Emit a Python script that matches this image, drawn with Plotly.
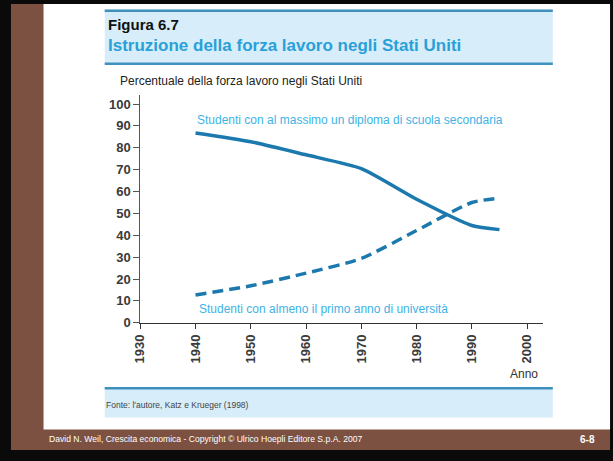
import plotly.graph_objects as go

# ---------------- data ----------------
years = [1940, 1950, 1960, 1970, 1980, 1990, 1995]
max_diploma = [86.8, 82.8, 76.8, 70.5, 56.5, 44.5, 42.6]
almeno_universita = [12.7, 16.9, 22.7, 29.4, 42.2, 55.0, 57.0]
x_ticks = [1930, 1940, 1950, 1960, 1970, 1980, 1990, 2000]
y_ticks = [0, 10, 20, 30, 40, 50, 60, 70, 80, 90, 100]
grid_vals = [20, 40, 60, 80, 100]

label_top = "Studenti con al massimo un diploma di scuola secondaria"
label_bottom = "Studenti con almeno il primo anno di università"

W, H = 613, 461
FONT = "Liberation Sans"
LINE_COL = "#1c79ae"
LABEL_COL = "#3db3e6"
HEAD_FILL = "#d7edfa"
HEAD_LINE = "#3f8fbf"
BROWN = "#7c5141"


def px(x):
    return x / W


def py(y):
    return 1 - y / H


fig = go.Figure()
fig.add_trace(go.Scatter(x=years, y=max_diploma, mode="lines",
                         line=dict(color=LINE_COL, width=3.5, shape="spline", smoothing=0.6),
                         showlegend=False, hoverinfo="skip"))
fig.add_trace(go.Scatter(x=years, y=almeno_universita, mode="lines",
                         line=dict(color=LINE_COL, width=3.5, shape="spline", smoothing=0.6,
                                   dash="11px,6px"),
                         showlegend=False, hoverinfo="skip"))

xr = [1930, 2002.86]
yr = [0, 104.0]
xdom = [px(134), px(542)]
ydom = [py(328.5), py(97)]

shapes = [
    dict(type="rect", xref="paper", yref="paper", x0=px(3), x1=px(610), y0=py(458), y1=py(4),
         fillcolor=BROWN, line=dict(width=0), layer="below"),
    dict(type="rect", xref="paper", yref="paper", x0=px(36), x1=px(610), y0=py(437), y1=py(4),
         fillcolor="white", line=dict(width=0), layer="below"),
    dict(type="rect", xref="paper", yref="paper", x0=px(98), x1=px(552), y0=py(66), y1=py(10),
         fillcolor=HEAD_FILL, line=dict(width=0), layer="below"),
    dict(type="line", xref="paper", yref="paper", x0=px(98), x1=px(552), y0=py(11), y1=py(11),
         line=dict(color=HEAD_LINE, width=2.5)),
    dict(type="line", xref="paper", yref="paper", x0=px(98), x1=px(552), y0=py(65), y1=py(65),
         line=dict(color=HEAD_LINE, width=2.5)),
    dict(type="rect", xref="paper", yref="paper", x0=px(98), x1=px(552), y0=py(425), y1=py(394),
         fillcolor=HEAD_FILL, line=dict(width=0), layer="below"),
    dict(type="line", xref="paper", yref="paper", x0=px(98), x1=px(552), y0=py(395), y1=py(395),
         line=dict(color=HEAD_LINE, width=2.5)),
]

annotations = [
    dict(text="<b>Figura 6.7</b>", xref="paper", yref="paper", x=px(99), y=py(25),
         xanchor="left", yanchor="middle", showarrow=False,
         font=dict(family=FONT, size=15, color="#111111")),
    dict(text="<b>Istruzione della forza lavoro negli Stati Uniti</b>", xref="paper", yref="paper",
         x=px(99), y=py(46), xanchor="left", yanchor="middle", showarrow=False,
         font=dict(family=FONT, size=17, color="#2aa0d8")),
    dict(text="Percentuale della forza lavoro negli Stati Uniti", xref="paper", yref="paper",
         x=px(111), y=py(82), xanchor="left", yanchor="middle", showarrow=False,
         font=dict(family=FONT, size=12, color="#222222")),
    dict(text="Anno", xref="paper", yref="paper", x=px(539), y=py(381),
         xanchor="right", yanchor="middle", showarrow=False,
         font=dict(family=FONT, size=12, color="#333333")),
    dict(text="Fonte: l'autore, Katz e Krueger (1998)", xref="paper", yref="paper",
         x=px(97), y=py(412), xanchor="left", yanchor="middle", showarrow=False,
         font=dict(family=FONT, size=8.5, color="#444444")),
    dict(text="David N. Weil, Crescita economica - Copyright © Ulrico Hoepli Editore S.p.A. 2007",
         xref="paper", yref="paper", x=px(40), y=py(447), xanchor="left", yanchor="middle",
         showarrow=False, font=dict(family=FONT, size=8.6, color="white")),
    dict(text="<b>6-8</b>", xref="paper", yref="paper", x=px(597), y=py(447),
         xanchor="right", yanchor="middle", showarrow=False,
         font=dict(family=FONT, size=10, color="white")),
    dict(text=label_top, xref="x", yref="y", x=1968.0, y=92.7, showarrow=False,
         xanchor="center", yanchor="middle",
         font=dict(family=FONT, size=12, color=LABEL_COL)),
    dict(text=label_bottom, xref="x", yref="y", x=1963.2, y=6.2, showarrow=False,
         xanchor="center", yanchor="middle",
         font=dict(family=FONT, size=12, color=LABEL_COL)),
]

fig.update_layout(
    width=W, height=H,
    margin=dict(l=0, r=0, t=0, b=0),
    paper_bgcolor="#0a0a0a",
    plot_bgcolor="rgba(0,0,0,0)",
    shapes=shapes,
    annotations=annotations,
    xaxis=dict(domain=xdom, range=xr, tickmode="array", tickvals=x_ticks,
               ticktext=["<b>%d</b>" % v for v in x_ticks], tickangle=-90,
               ticks="outside", ticklen=5, tickcolor="#333333", tickwidth=1,
               showline=True, linecolor="#333333", linewidth=1.6,
               showgrid=False, zeroline=False,
               tickfont=dict(family=FONT, size=13, color="#3a3a3a")),
    xaxis2=dict(domain=xdom, range=xr, overlaying="x", anchor="y",
                tickmode="array", tickvals=x_ticks[1:], ticks="inside", ticklen=5,
                tickcolor="#333333", tickwidth=1, showticklabels=False,
                showgrid=False, zeroline=False, showline=False),
    yaxis=dict(domain=ydom, range=yr, tickmode="array", tickvals=y_ticks,
               ticktext=["<b>%d</b>" % v for v in y_ticks],
               ticks="outside", ticklen=6, tickcolor="#555555", tickwidth=1,
               showline=True, linecolor="#555555", linewidth=1,
               showgrid=False, zeroline=False,
               tickfont=dict(family=FONT, size=13, color="#3a3a3a")),
    yaxis2=dict(domain=ydom, range=yr, overlaying="y", anchor="x", side="left",
                tickmode="array", tickvals=grid_vals, showticklabels=False, ticks="",
                showgrid=True, gridcolor="#9a9a9a", gridwidth=1.3,
                zeroline=False, showline=False),
)

fig.write_html("out.html", config={"displayModeBar": False, "staticPlot": True})

# remove the browser's default page margin so the figure fills the window exactly
with open("out.html", encoding="utf-8") as f:
    html = f.read()
html = html.replace("<head>", "<head><style>html,body{margin:0;padding:0;overflow:hidden;}</style>", 1)
with open("out.html", "w", encoding="utf-8") as f:
    f.write(html)
